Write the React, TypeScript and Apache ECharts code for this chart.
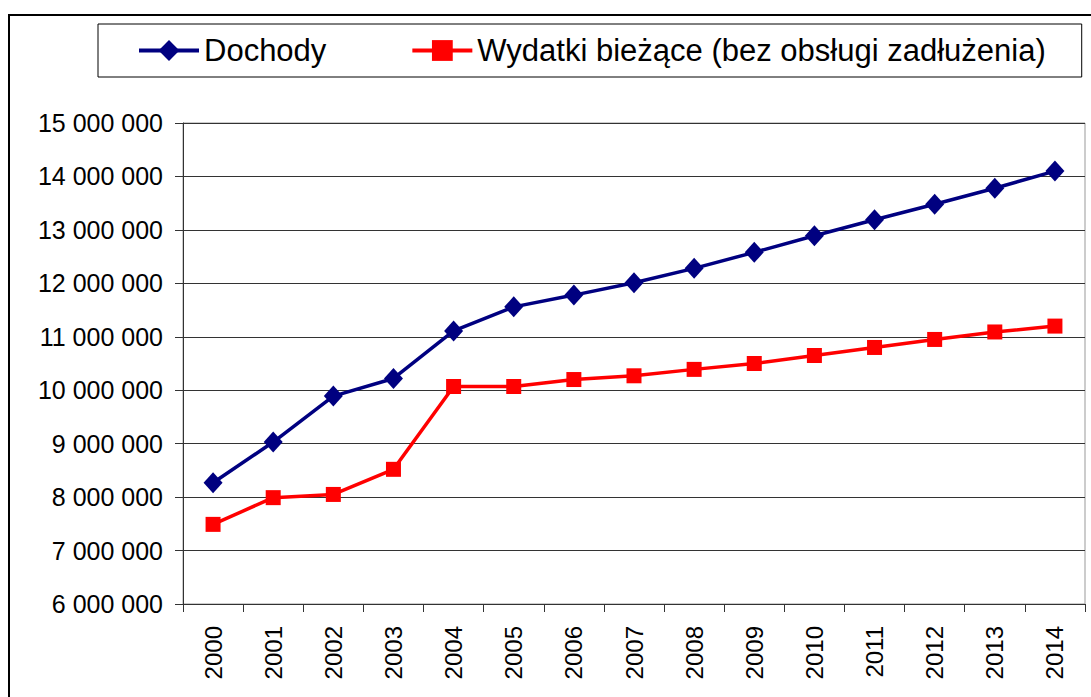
import React, { useEffect, useRef } from "react";
import * as echarts from "echarts";

const years = ["2000", "2001", "2002", "2003", "2004", "2005", "2006", "2007", "2008", "2009", "2010", "2011", "2012", "2013", "2014"];
const dochody = [8270000, 9030000, 9890000, 10220000, 11110000, 11560000, 11780000, 12010000, 12280000, 12580000, 12890000, 13190000, 13480000, 13780000, 14100000];
const wydatki = [7490000, 7990000, 8050000, 8520000, 10070000, 10070000, 10200000, 10270000, 10390000, 10500000, 10650000, 10800000, 10950000, 11090000, 11200000];
const seriesNames = ["Dochody", "Wydatki bieżące (bez obsługi zadłużenia)"];

const fmt = (v: number) => String(Math.round(v)).replace(/\B(?=(\d{3})+(?!\d))/g, " ");

export default function App() {
  const ref = useRef<HTMLDivElement>(null);
  useEffect(() => {
    if (!ref.current) return;
    const chart = echarts.init(ref.current, null, { renderer: "svg" });
    const font = "Arial, 'Liberation Sans', sans-serif";
    chart.setOption({
      animation: false,
      backgroundColor: "#fff",
      textStyle: { fontFamily: font },
      graphic: [
        {
          type: "rect",
          shape: { x: 9, y: 15, width: 1200, height: 800 },
          style: { fill: "none", stroke: "#000", lineWidth: 2 },
          z: 0,
        },
      ],
      legend: {
        show: true,
        left: 98,
        top: 24,
        padding: [11, 36, 11, 39],
        borderColor: "#000",
        borderWidth: 1,
        itemWidth: 60,
        itemHeight: 26,
        itemGap: 84,
        lineStyle: { width: 4 },
        textStyle: { fontSize: 31, color: "#000", fontFamily: font },
        data: seriesNames,
      },
      grid: {
        left: 183,
        top: 123,
        right: 6,
        bottom: 93,
        show: true,
        borderColor: "#999",
        borderWidth: 1,
      },
      xAxis: {
        type: "category",
        data: years,
        boundaryGap: true,
        axisLine: { lineStyle: { color: "#333", width: 1 } },
        axisTick: { show: true, length: 8, lineStyle: { color: "#333" }, alignWithLabel: false },
        axisLabel: { rotate: 90, fontSize: 24, color: "#000", margin: 22, fontFamily: font },
        splitLine: { show: false },
      },
      yAxis: {
        type: "value",
        min: 6000000,
        max: 15000000,
        interval: 1000000,
        axisLine: { show: true, lineStyle: { color: "#333", width: 1 } },
        axisTick: { show: true, length: 8, lineStyle: { color: "#333" } },
        axisLabel: { fontSize: 25, color: "#000", margin: 20, formatter: fmt, fontFamily: font },
        splitLine: { show: true, lineStyle: { color: "#333", width: 1 } },
      },
      series: [
        {
          name: seriesNames[0],
          type: "line",
          data: dochody,
          symbol: "diamond",
          symbolSize: [19, 21],
          lineStyle: { color: "#000080", width: 3.5 },
          itemStyle: { color: "#000080" },
          z: 3,
        },
        {
          name: seriesNames[1],
          type: "line",
          data: wydatki,
          symbol: "rect",
          symbolSize: 15,
          lineStyle: { color: "#ff0000", width: 3.5 },
          itemStyle: { color: "#ff0000" },
          z: 2,
        },
      ],
    });
    return () => chart.dispose();
  }, []);
  return (
    <div
      ref={ref}
      style={{ position: "absolute", left: 0, top: 0, width: 1091, height: 697 }}
    />
  );
}
